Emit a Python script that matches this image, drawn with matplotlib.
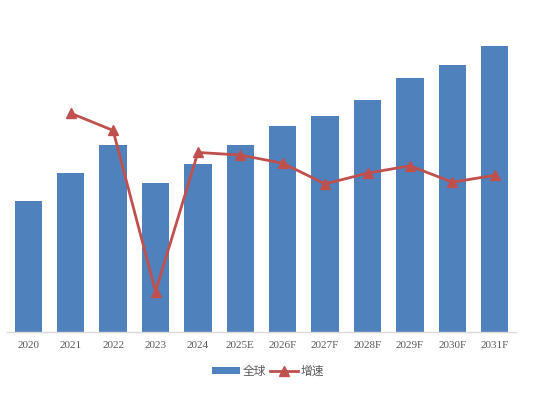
import matplotlib
matplotlib.use("Agg")
import matplotlib.pyplot as plt
import numpy as np

plt.rcParams['font.family'] = ['Noto Sans CJK SC', 'DejaVu Sans']

categories = ["2020", "2021", "2022", "2023", "2024", "2025E", "2026F",
              "2027F", "2028F", "2029F", "2030F", "2031F"]
global_values = [131, 159, 186.7, 149.3, 167.7, 187.3, 205.7, 216, 232.3, 253.7, 267.3, 286]
growth = [np.nan, 21.4, 17.4, -20.0, 12.3, 11.7, 9.8, 5.0, 7.5, 9.2, 5.4, 7.0]

fig = plt.figure(figsize=(5.4, 3.98), dpi=100)
ax = fig.add_axes([0.01315, 0.1658, 0.9423, 0.7588])
x = np.arange(len(categories))
bars = ax.bar(x, global_values, width=0.645, color="#4F81BD", label="全球", zorder=2)
ax.set_xlim(-0.5, len(categories) - 0.5)
ax.set_ylim(0, 302)
ax.set_yticks([])
for s in ["top", "right", "left"]:
    ax.spines[s].set_visible(False)
ax.spines["bottom"].set_color("#D9D9D9")
ax.spines["bottom"].set_linewidth(1.0)
ax.set_xticks(x)
ax.set_xticklabels(categories, fontfamily="Liberation Serif", fontsize=8, color="#595959")
ax.tick_params(axis="x", length=0, pad=6.5)

ax2 = ax.twinx()
line, = ax2.plot(x, growth, color="#C0504D", linewidth=2.0, marker="^", markersize=6.5,
                 label="增速", zorder=3)
ax2.set_ylim(-29.35, 40.7)
ax2.set_yticks([])
for s in ["top", "right", "left", "bottom"]:
    ax2.spines[s].set_visible(False)

fig.legend([bars, line], ["全球", "增速"], loc="center", bbox_to_anchor=(268/540, 1 - 371/398),
           ncol=2, frameon=False, fontsize=8.5, handlelength=2.4, handletextpad=0.2,
           columnspacing=0.3, labelcolor="#595959", handleheight=0.5)

fig.savefig("out.png", dpi=100, facecolor="white")
